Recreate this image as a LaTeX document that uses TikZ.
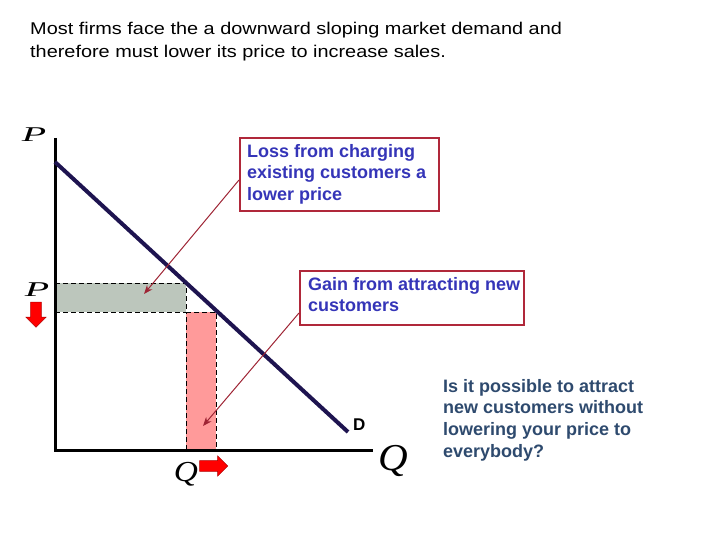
\documentclass[tikz,border=0pt]{standalone}
\usepackage{fontspec}
\setmainfont{Liberation Sans}
\newfontfamily\titlefont{Liberation Sans}[FakeStretch=1.17]
\newfontfamily\serifit{Liberation Serif}
\usetikzlibrary{arrows.meta,shapes.arrows}
\definecolor{dem}{HTML}{1E1450}
\definecolor{boxtxt}{HTML}{3535B8}
\definecolor{boxedge}{HTML}{B0283A}
\definecolor{grayfill}{HTML}{BCC6BC}
\definecolor{pinkfill}{HTML}{FF9A9A}
\definecolor{qtxt}{HTML}{2E4A6E}
\tikzset{
  labelbox/.style={draw=boxedge, line width=1.6pt, inner sep=0pt, anchor=north west},
  boxtext/.style={text=boxtxt, font=\fontsize{18}{21.5}\selectfont\bfseries, align=left, anchor=north west, inner sep=0pt},
  pointer/.style={draw=boxedge!90!black, line width=1pt, -{Stealth[length=9pt,width=7pt]}},
  axis/.style={line width=3pt, black},
  rectdash/.style={dashed, dash pattern=on 5pt off 3pt, line width=0.8pt, black},
  letterlabel/.style={inner sep=0pt},
  blockarrow/.style={single arrow, fill=red, draw=red!70!black, line width=0.5pt, minimum height=25pt, minimum width=20pt, single arrow head extend=2pt, inner sep=2pt}
}
\newcommand{\wideletter}[3]{\scalebox{#2}[1]{\fontsize{#1}{#1}\selectfont\serifit\itshape #3}}
\begin{document}
\begin{tikzpicture}[x=1pt,y=-1pt]
\useasboundingbox (0,0) rectangle (720,540);
% title
\node[anchor=north west, inner sep=0pt, align=left, font=\fontsize{17}{23}\selectfont\titlefont] (title) at (30,22)
  {Most firms face the a downward sloping market demand and\\therefore must lower its price to increase sales.};
% areas
\fill[grayfill] (55,283) rectangle (186,312);
\fill[pinkfill] (186,312) rectangle (216,450);
\draw[rectdash] (55,283) -- (186,283) -- (186,312) -- (216,312) -- (216,450);
\draw[rectdash] (55,312) -- (186,312) -- (186,450);
% axes
\coordinate (origin) at (55,450);
\coordinate (ytop) at (55,138);
\coordinate (xend) at (373,450);
\draw[axis] (ytop) -- (origin) -- (xend);
% demand
\coordinate (d0) at (55,162);
\coordinate (d1) at (348,432);
\draw[dem, line width=4pt] (d0) -- (d1);
\node[font=\fontsize{17}{17}\selectfont\bfseries, anchor=west, inner sep=0pt] (D) at (353,425) {D};
% axis labels
\node[letterlabel] (Ptop) at (34,135) {\wideletter{21}{1.9}{P}};
\node[letterlabel] (Plow) at (37,290) {\wideletter{21}{1.9}{P}};
\node[letterlabel] (Qlow) at (186,474) {\wideletter{29}{1.15}{Q}};
\node[letterlabel] (Qend) at (393,461) {\wideletter{38}{1.08}{Q}};
% block arrows
\node[blockarrow, shape border rotate=270] (downarr) at (36,312) {};
\node[blockarrow, minimum height=28pt] (rightarr) at (211,466) {};
% boxes
\node[labelbox, minimum width=199pt, minimum height=73pt] (loss) at (239,137) {};
\node[boxtext] (losst) at (247,144) {Loss from charging\\existing customers a\\lower price};
\node[labelbox, minimum width=224pt, minimum height=54pt] (gain) at (299,270) {};
\node[boxtext] (gaint) at (308,277) {Gain from attracting new\\customers};
% pointers
\coordinate (lossend) at (144,294);
\coordinate (gainend) at (203,426);
\draw[pointer] (loss.west |- 0,180) -- (lossend);
\draw[pointer] (gain.west |- 0,313) -- (gainend);
% question
\node[anchor=north west, inner sep=0pt, align=left, text=qtxt, font=\fontsize{18}{21.7}\selectfont\bfseries] (q) at (443,379)
  {Is it possible to attract\\new customers without\\lowering your price to\\everybody?};
\end{tikzpicture}
\end{document}
